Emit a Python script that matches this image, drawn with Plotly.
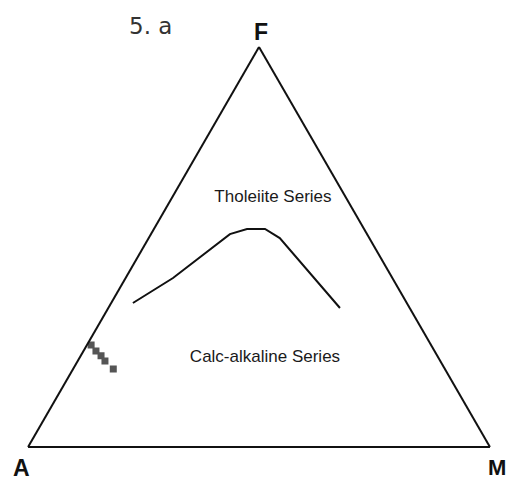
"""
AFM ternary diagram (Irvine & Baragar style) — tholeiite vs calc-alkaline divide.
"""
import plotly.graph_objects as go

INK = "#111111"

# sample compositions (fractions of F, A, M)
sample_F = [0.255, 0.240, 0.228, 0.215, 0.195]
sample_A = [0.736, 0.733, 0.728, 0.726, 0.718]
sample_M = [0.009, 0.027, 0.044, 0.059, 0.087]

# boundary between the two series
curve_F = [0.360, 0.4225, 0.5325, 0.545, 0.545, 0.5225, 0.3475]
curve_A = [0.593, 0.475, 0.297, 0.2535, 0.2145, 0.194, 0.151]
curve_M = [0.047, 0.1026, 0.171, 0.2015, 0.2405, 0.284, 0.5016]

# field labels
label_text = ["Tholeiite Series", "Calc-alkaline Series"]
label_F = [0.6225, 0.2225]
label_A = [0.1585, 0.3758]
label_M = [0.219, 0.4017]

fig = go.Figure()
fig.add_trace(go.Scatterternary(
    a=curve_F, b=curve_A, c=curve_M,
    mode="lines", line=dict(color=INK, width=2),
    hoverinfo="skip",
))
fig.add_trace(go.Scatterternary(
    a=sample_F, b=sample_A, c=sample_M,
    mode="markers",
    marker=dict(symbol="square", size=7, color="#555555"),
))
fig.add_trace(go.Scatterternary(
    a=label_F, b=label_A, c=label_M,
    mode="text", text=label_text,
    textfont=dict(size=17, color="#1a1a1a", family="Liberation Sans, Arial, sans-serif"),
    hoverinfo="skip",
))

hidden = dict(
    showgrid=False, showticklabels=False, ticks="",
    showline=True, linecolor=INK, linewidth=2, title=dict(text=""),
)
fig.update_layout(
    width=511, height=480,
    showlegend=False,
    margin=dict(l=0, r=0, t=0, b=0),
    paper_bgcolor="white", plot_bgcolor="white",
    ternary=dict(
        sum=1,
        domain=dict(x=[28 / 511, 490 / 511], y=[33 / 480, 433 / 480]),
        bgcolor="white",
        aaxis=hidden, baxis=hidden, caxis=hidden,
    ),
)

vertex_font = dict(size=23, color=INK, family="Liberation Sans, Arial, sans-serif")
for txt, x, y, size in [("<b>F</b>", 260.5, 31.5, 23), ("<b>A</b>", 21.5, 468, 23),
                        ("<b>M</b>", 497, 467, 22)]:
    fig.add_annotation(
        xref="paper", yref="paper", x=x / 511, y=1 - y / 480,
        text=txt, showarrow=False, font=dict(vertex_font, size=size),
        xanchor="center", yanchor="middle",
    )
fig.add_annotation(
    xref="paper", yref="paper", x=150 / 511, y=1 - 26 / 480,
    text="5. a", showarrow=False,
    font=dict(size=23, color="#333333", family="DejaVu Sans, Verdana, sans-serif"),
    xanchor="center", yanchor="middle",
)

# drop the browser's default body margin so the figure sits at the window's corner
fig.write_html(
    "out.html",
    config={"displayModeBar": False},
    post_script="document.body.style.margin = '0';",
)
